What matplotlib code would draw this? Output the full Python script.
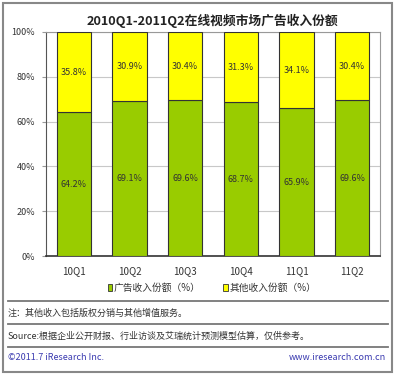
import matplotlib
matplotlib.use("Agg")
import matplotlib.pyplot as plt
from matplotlib.patches import Rectangle
from matplotlib.lines import Line2D
import numpy as np

plt.rcParams['font.family'] = ['Noto Sans CJK SC', 'DejaVu Sans']

# data
quarters = ['10Q1', '10Q2', '10Q3', '10Q4', '11Q1', '11Q2']
ad_share = [64.2, 69.1, 69.6, 68.7, 65.9, 69.6]
other_share = [35.8, 30.9, 30.4, 31.3, 34.1, 30.4]
series_names = ['广告收入份额（%）', '其他收入份额（%）']
y_ticks = [0, 20, 40, 60, 80, 100]

GREEN = '#99cc00'
YELLOW = '#ffff00'
W, H = 397, 375

fig = plt.figure(figsize=(W / 100, H / 100), dpi=100)
fig.patch.set_facecolor('white')

ax = fig.add_axes([46 / W, 1 - 256 / H, (380 - 46) / W, (256 - 32) / H])
x = np.arange(len(quarters))
ax.bar(x, ad_share, width=0.62, color=GREEN, edgecolor='#333333', linewidth=0.8, zorder=3)
ax.bar(x, other_share, bottom=ad_share, width=0.62, color=YELLOW,
       edgecolor='#333333', linewidth=0.8, zorder=3)

for i in range(len(quarters)):
    ax.text(x[i], ad_share[i] / 2, f'{ad_share[i]:.1f}%', ha='center', va='center',
            fontsize=6.5, color='#333333', zorder=4)
    ax.text(x[i], ad_share[i] + other_share[i] / 2, f'{other_share[i]:.1f}%',
            ha='center', va='center', fontsize=6.5, color='#333333', zorder=4)

ax.set_xlim(-0.5, len(quarters) - 0.5)
ax.set_ylim(0, 100)
ax.set_yticks(y_ticks)
ax.set_yticklabels([f'{t}%' for t in y_ticks], fontsize=6.5, color='#333333')
ax.set_xticks(x)
ax.set_xticklabels(quarters, fontsize=7, color='#333333')
ax.tick_params(axis='x', length=0, pad=7)
ax.tick_params(axis='y', length=3, color='#999999', pad=5)
ax.yaxis.grid(True, color='#c8c8c8', linewidth=0.8, zorder=0)
for side in ['top', 'right']:
    ax.spines[side].set_color('#999999')
    ax.spines[side].set_linewidth(0.8)
ax.spines['left'].set_color('#555555')
ax.spines['bottom'].set_color('#333333')
ax.spines['bottom'].set_linewidth(1.2)

fig.text(212 / W, 1 - 21 / H, '2010Q1-2011Q2在线视频市场广告收入份额', ha='center', va='center',
         fontsize=9.2, fontweight='bold', color='#222222')

handles = [Rectangle((0, 0), 1, 1, facecolor=GREEN, edgecolor='#333333', linewidth=0.6),
           Rectangle((0, 0), 1, 1, facecolor=YELLOW, edgecolor='#333333', linewidth=0.6)]
fig.legend(handles, series_names, loc='center', bbox_to_anchor=(212 / W, 1 - 288 / H), ncol=2,
           frameon=False, fontsize=7, handlelength=0.5, handleheight=0.7, handletextpad=0.15,
           columnspacing=2.3, labelcolor='#333333')

# separators
for yy in [301, 324, 347]:
    fig.add_artist(Line2D([8 / W, 388 / W], [1 - yy / H, 1 - yy / H], color='#777777', linewidth=1.3))

fig.text(8 / W, 1 - 313 / H, '注：其他收入包括版权分销与其他增值服务。', ha='left', va='center',
         fontsize=6.5, color='#333333')
fig.text(8 / W, 1 - 336 / H, 'Source:根据企业公开财报、行业访谈及艾瑞统计预测模型估算，仅供参考。',
         ha='left', va='center', fontsize=6.5, color='#333333')
fig.text(8 / W, 1 - 358 / H, '©2011.7 iResearch Inc.', ha='left', va='center',
         fontsize=6.5, color='#3b3bb0')
fig.text(386 / W, 1 - 358 / H, 'www.iresearch.com.cn', ha='right', va='center',
         fontsize=6.5, color='#3b3bb0')

# outer frame
fig.add_artist(Rectangle((3 / W, 3 / H), 389 / W, 369 / H, fill=False,
                         edgecolor='#888888', linewidth=1.5, transform=fig.transFigure))

fig.savefig('out.png', dpi=100)
